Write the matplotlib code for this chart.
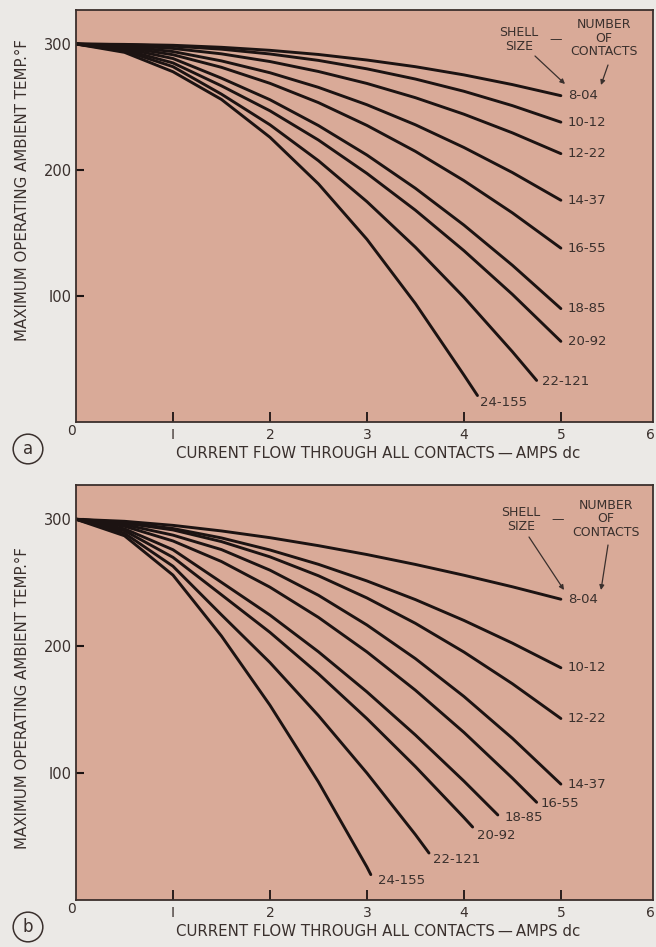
import matplotlib
matplotlib.use("Agg")
from matplotlib import pyplot as plt

# shell size - number of contacts
labels = ['8-04', '10-12', '12-22', '14-37', '16-55', '18-85', '20-92', '22-121', '24-155']

# panel a : current (amps dc) vs max ambient temp (deg F)
xa = [[0, 0.5, 1, 1.5, 2, 2.5, 3, 3.5, 4, 4.5, 5]] * 7 + [
    [0, 0.5, 1, 1.5, 2, 2.5, 3, 3.5, 4, 4.5, 4.75],
    [0, 0.5, 1, 1.5, 2, 2.5, 3, 3.5, 4, 4.14],
]
ya = [
    [300, 299.7, 299, 297.4, 295, 291.7, 287.3, 282, 275.5, 267.8, 259],
    [300, 299.5, 298.3, 295.9, 292.1, 287, 280.3, 272.2, 262.5, 251.1, 238],
    [300, 298.9, 296.5, 292.2, 286.1, 278.2, 268.7, 257.4, 244.3, 229.5, 213],
    [300, 298.2, 294, 286.6, 277.2, 265.6, 251.8, 235.9, 217.9, 198, 176],
    [300, 297.4, 291.5, 281.5, 268.8, 253.5, 235.4, 214.8, 191.6, 166, 138],
    [300, 296.5, 288.5, 272.9, 255.8, 235.3, 211.9, 185.5, 156.3, 124.4, 90],
    [300, 295.5, 285, 266.8, 247, 223.8, 197.3, 168.1, 136, 101.3, 64],
    [300, 294.6, 282, 260.2, 235.9, 207.4, 174.9, 138.7, 99, 55.8, 33],
    [300, 293.4, 278, 256, 226, 189, 145, 94, 37.3, 21],
]

# panel b
xb = [[0, 0.5, 1, 1.5, 2, 2.5, 3, 3.5, 4, 4.5, 5]] * 4 + [
    [0, 0.5, 1, 1.5, 2, 2.5, 3, 3.5, 4, 4.5, 4.75],
    [0, 0.5, 1, 1.5, 2, 2.5, 3, 3.5, 4, 4.35],
    [0, 0.5, 1, 1.5, 2, 2.5, 3, 3.5, 4, 4.09],
    [0, 0.5, 1, 1.5, 2, 2.5, 3, 3.5, 3.64],
    [0, 0.5, 1, 1.5, 2, 2.5, 3, 3.04],
]
yb = [
    [300, 298.4, 295.2, 290.8, 285.5, 279.2, 272.2, 264.4, 255.9, 246.8, 237],
    [300, 297.4, 292.7, 285.3, 275.8, 264.5, 251.4, 236.7, 220.3, 202.4, 183],
    [300, 297, 291.6, 282.4, 270.4, 255.5, 238, 218, 195.4, 170.4, 143],
    [300, 295.8, 287.5, 276.1, 259.9, 240.1, 216.7, 190.2, 160.4, 127.4, 91.3],
    [300, 294.5, 282.9, 266.7, 246.5, 222.7, 195.5, 165.3, 132.1, 96, 77],
    [300, 292.5, 276, 250.3, 224.5, 195.6, 164, 130, 93.7, 67],
    [300, 291, 270, 240.5, 210.9, 178.2, 142.9, 105.1, 65, 57.5],
    [300, 289, 263, 224.7, 187.1, 145.3, 100, 51.5, 37],
    [300, 287, 256, 208, 153.5, 93, 26, 20],
]

# label offsets from curve end (points)
offs_a = [(5, 0)] * 7 + [(4, -1), (2, -5)]
offs_b = [(5, 0)] * 4 + [(3, -1), (5, -2), (3, -6), (3, -4.5), (5, -4)]

W, H = 656, 947
bg = '#ebe9e6'
face = '#d9aa98'
ink = '#1c1312'
txt = '#3a302d'

plt.rcParams['font.family'] = 'DejaVu Sans'
fig = plt.figure(figsize=(W / 100, H / 100), dpi=100, facecolor=bg)


def fx(px):
    return px / W


def fy(py):
    return 1 - py / H


def panel(top, bot, xs, ys, offs, letter, label_y, note):
    ax = fig.add_axes([fx(76), fy(bot), fx(653) - fx(76), fy(top) - fy(bot)])
    ax.set_facecolor(face)
    for x, y, lab, o in zip(xs, ys, labels, offs):
        ax.plot(x, y, color=ink, lw=2.1, solid_capstyle='round', solid_joinstyle='round')
        ax.annotate(lab, (x[-1], y[-1]), xytext=o, textcoords='offset points',
                    ha='left', va='center', fontsize=9.5, color=txt)
    ax.set_xlim(0, 5.95)
    ax.set_ylim(0, 327)
    ax.set_xticks([1, 2, 3, 4, 5])
    ax.set_xticklabels(['I', '2', '3', '4', '5'])
    ax.set_yticks([100, 200, 300])
    ax.set_yticklabels(['I00', '200', '300'])
    ax.tick_params(axis='x', direction='in', length=7, width=1.3, pad=4,
                   labelsize=10, colors=ink, labelcolor=txt)
    ax.tick_params(axis='y', direction='in', length=6, width=1.5, pad=3,
                   labelsize=10.5, colors=ink, labelcolor=txt)
    for s in ax.spines.values():
        s.set_color('#3b2f2c')
        s.set_linewidth(1.3)
    # extra axis text
    fig.text(fx(72), fy(bot + 9), '0', ha='center', va='center', fontsize=10, color=txt)
    fig.text(fx(650), fy(bot + 13), '6', ha='center', va='center', fontsize=10, color=txt)
    fig.text(fx(378), fy(bot + 31), 'CURRENT FLOW THROUGH ALL CONTACTS\u2009\u2014\u2009AMPS dc',
             ha='center', va='center', fontsize=10.8, color=txt)
    fig.text(fx(23), fy(label_y), 'MAXIMUM OPERATING AMBIENT TEMP.\u00b0F', rotation=90,
             ha='center', va='center', fontsize=10.8, color=txt)
    fig.text(fx(28), fy(bot + 27), letter, ha='center', va='center', fontsize=12, color=txt,
             bbox=dict(boxstyle='circle,pad=0.35', fc='none', ec=txt, lw=1.1))
    # shell size / number of contacts key
    (sx, sy), (nx, ny), a1, a2 = note
    fig.text(fx(sx), fy(sy), 'SHELL\nSIZE', ha='center', va='center', fontsize=9,
             color=txt, linespacing=1.1)
    fig.text(fx(sx + 37), fy(sy), '\u2014', ha='center', va='center', fontsize=9, color=txt)
    fig.text(fx(nx), fy(ny), 'NUMBER\nOF\nCONTACTS', ha='center', va='center', fontsize=9,
             color=txt, linespacing=1.05)
    for (x0, y0), (x1, y1) in (a1, a2):
        fig.add_artist(plt.Annotation('', xy=(fx(x1), fy(y1)), xytext=(fx(x0), fy(y0)),
                                      xycoords='figure fraction', textcoords='figure fraction',
                                      arrowprops=dict(arrowstyle='-|>', color=txt, lw=0.9,
                                                      mutation_scale=7, shrinkA=0, shrinkB=0)))
    return ax


panel(10, 422, xa, ya, offs_a, 'a', 190,
      ((519, 40), (604, 38), ((535, 56), (565, 84)), ((608, 65), (601, 85))))
panel(485, 900, xb, yb, offs_b, 'b', 698,
      ((521, 520), (606, 519), ((529, 537), (564, 590)), ((608, 545), (601, 590))))

fig.savefig('out.png', dpi=100, facecolor=bg)
